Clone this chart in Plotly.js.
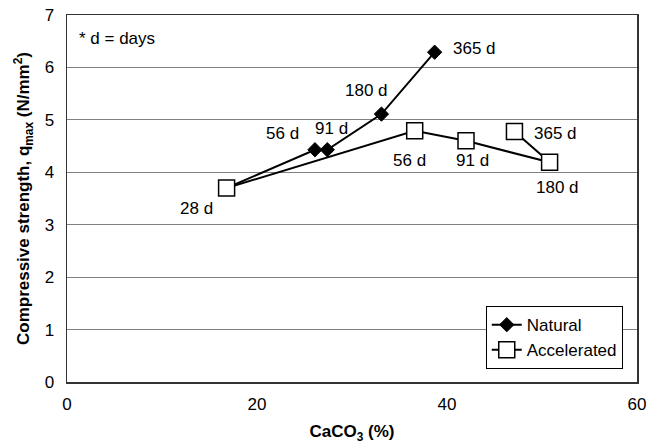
<!DOCTYPE html>
<html>
<head>
<meta charset="utf-8">
<script src="https://cdn.plot.ly/plotly-3.0.1.min.js"></script>
<style>html,body{margin:0;padding:0;background:#fff;}#chart{width:649px;height:448px;}</style>
</head>
<body>
<div id="chart"></div>
<script>
// Data
const ages = ["28 d", "56 d", "91 d", "180 d", "365 d"];
const naturalCaCO3 = [16.8, 26.1, 27.4, 33.1, 38.7];
const naturalStrength = [3.70, 4.43, 4.43, 5.11, 6.29];
const accelCaCO3 = [16.8, 36.6, 42.0, 50.8, 47.1];
const accelStrength = [3.70, 4.79, 4.60, 4.19, 4.78];
const xTicks = [0, 20, 40, 60];
const yTicks = [0, 1, 2, 3, 4, 5, 6, 7];

// label offsets (pixels) for each point's age label
const natShift = [null, [-32, 16], [4, 21], [-15, 24], [40, 4]];
const accShift = [[-30, -20], [-5, -30], [6, -20], [8, -25], [41, -2]];

const font = "Liberation Sans, Arial, sans-serif";
const annotations = [];
function addLabels(xs, ys, shifts) {
  for (let i = 0; i < xs.length; i++) {
    if (!shifts[i]) continue;
    annotations.push({
      x: xs[i], y: ys[i], xref: "x", yref: "y", text: ages[i], showarrow: false,
      xshift: shifts[i][0], yshift: shifts[i][1],
      font: {family: font, size: 17, color: "#000"}
    });
  }
}
addLabels(naturalCaCO3, naturalStrength, natShift);
addLabels(accelCaCO3, accelStrength, accShift);
annotations.push({
  xref: "paper", yref: "paper", x: 0.018, y: 0.935, xanchor: "left", yanchor: "middle",
  text: "* d = days", showarrow: false, font: {family: font, size: 17, color: "#000"}
});

const traces = [
  {
    x: naturalCaCO3, y: naturalStrength, name: "Natural", type: "scatter", mode: "lines+markers",
    line: {color: "#000", width: 2},
    marker: {symbol: "diamond", size: 11, color: "#000", line: {color: "#000", width: 1}}
  },
  {
    x: accelCaCO3, y: accelStrength, name: "Accelerated", type: "scatter", mode: "lines+markers",
    line: {color: "#000", width: 2},
    marker: {symbol: "square", size: 16, color: "#fff", line: {color: "#000", width: 1.5}}
  }
];

const layout = {
  width: 649, height: 448,
  margin: {l: 67, r: 12, t: 15, b: 66},
  paper_bgcolor: "#fff", plot_bgcolor: "#fff",
  font: {family: font, size: 17, color: "#000"},
  showlegend: true,
  legend: {
    x: 0.975, y: 0.035, xanchor: "right", yanchor: "bottom",
    bgcolor: "#fff", bordercolor: "#000", borderwidth: 1,
    font: {family: font, size: 17, color: "#000"},
    tracegroupgap: 0
  },
  xaxis: {
    range: [0, 60], tickvals: xTicks, ticktext: xTicks.map(String),
    showgrid: false, zeroline: false, showline: true, linecolor: "#333", linewidth: 1.5, mirror: true,
    ticks: "", ticklabelstandoff: 6,
    tickfont: {family: font, size: 17, color: "#000"},
    title: {text: "<b>CaCO<sub>3</sub> (%)</b>", font: {family: font, size: 17, color: "#000"}, standoff: 12}
  },
  yaxis: {
    range: [0, 7], tickvals: yTicks, ticktext: yTicks.map(String),
    showgrid: true, gridcolor: "#808080", gridwidth: 1,
    zeroline: false, showline: true, linecolor: "#333", linewidth: 1.5, mirror: true,
    ticks: "", ticklabelstandoff: 8,
    tickfont: {family: font, size: 17, color: "#000"},
    title: {text: "<b>Compressive strength, q<sub>max</sub> (N/mm<sup>2</sup>)</b>", font: {family: font, size: 17, color: "#000"}, standoff: 10}
  },
  annotations: annotations
};

Plotly.newPlot("chart", traces, layout, {displayModeBar: false, staticPlot: true});
</script>
</body>
</html>
